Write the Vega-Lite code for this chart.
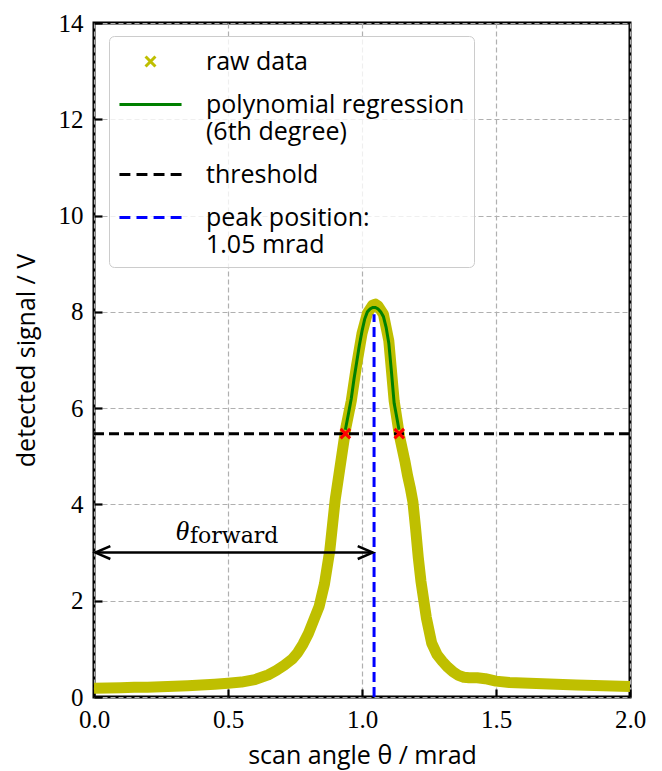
{
  "$schema": "https://vega.github.io/schema/vega-lite/v6.json",
  "width": 536,
  "height": 674,
  "autosize": {"type": "none"},
  "padding": {"left": 94, "top": 23, "right": 32, "bottom": 74},
  "background": "white",
  "config": {
    "view": {"stroke": "black", "strokeWidth": 3},
    "axis": {
      "domain": false,
      "grid": true,
      "gridColor": "#b0b0b0",
      "gridDash": [5, 3],
      "gridWidth": 1.2,
      "ticks": true,
      "tickColor": "black",
      "tickWidth": 2.2,
      "tickSize": -8,
      "labelFont": "Liberation Serif",
      "labelFontSize": 25,
      "labelColor": "black",
      "labelFlush": false,
      "titleFont": "Open Sans",
      "titleFontSize": 25,
      "titleFontWeight": "normal",
      "titleColor": "black"
    }
  },
  "datasets": {
    "raw": [
      {"x": 0.00, "y": 0.18}, {"x": 0.05, "y": 0.185}, {"x": 0.10, "y": 0.19}, {"x": 0.15, "y": 0.20},
      {"x": 0.20, "y": 0.205}, {"x": 0.25, "y": 0.215}, {"x": 0.30, "y": 0.225}, {"x": 0.35, "y": 0.235},
      {"x": 0.40, "y": 0.25}, {"x": 0.45, "y": 0.265}, {"x": 0.50, "y": 0.285}, {"x": 0.55, "y": 0.31},
      {"x": 0.60, "y": 0.36}, {"x": 0.65, "y": 0.46}, {"x": 0.68, "y": 0.55}, {"x": 0.71, "y": 0.66},
      {"x": 0.74, "y": 0.79}, {"x": 0.76, "y": 0.92}, {"x": 0.78, "y": 1.1}, {"x": 0.80, "y": 1.32},
      {"x": 0.82, "y": 1.6}, {"x": 0.84, "y": 1.88}, {"x": 0.86, "y": 2.35}, {"x": 0.88, "y": 3.05},
      {"x": 0.90, "y": 4.1}, {"x": 0.92, "y": 4.85}, {"x": 0.94, "y": 5.6}, {"x": 0.96, "y": 6.15},
      {"x": 0.98, "y": 6.9}, {"x": 1.00, "y": 7.55}, {"x": 1.02, "y": 7.97}, {"x": 1.04, "y": 8.14},
      {"x": 1.05, "y": 8.16}, {"x": 1.06, "y": 8.12}, {"x": 1.08, "y": 7.95}, {"x": 1.10, "y": 7.4},
      {"x": 1.12, "y": 6.15}, {"x": 1.14, "y": 5.42}, {"x": 1.16, "y": 4.9}, {"x": 1.17, "y": 4.6},
      {"x": 1.18, "y": 4.35}, {"x": 1.19, "y": 4.05}, {"x": 1.20, "y": 3.5}, {"x": 1.21, "y": 2.9},
      {"x": 1.22, "y": 2.4}, {"x": 1.24, "y": 1.65}, {"x": 1.26, "y": 1.12}, {"x": 1.28, "y": 0.88},
      {"x": 1.30, "y": 0.74}, {"x": 1.32, "y": 0.62}, {"x": 1.34, "y": 0.52}, {"x": 1.36, "y": 0.45},
      {"x": 1.38, "y": 0.41}, {"x": 1.40, "y": 0.40}, {"x": 1.43, "y": 0.40}, {"x": 1.46, "y": 0.38},
      {"x": 1.50, "y": 0.33}, {"x": 1.55, "y": 0.30}, {"x": 1.60, "y": 0.29}, {"x": 1.70, "y": 0.27},
      {"x": 1.80, "y": 0.25}, {"x": 1.90, "y": 0.235}, {"x": 2.00, "y": 0.22}
    ],
    "fit": [
      {"x": 0.938, "y": 5.55}, {"x": 0.95, "y": 5.9}, {"x": 0.96, "y": 6.2}, {"x": 0.97, "y": 6.6},
      {"x": 0.98, "y": 6.95}, {"x": 0.99, "y": 7.3}, {"x": 1.00, "y": 7.6}, {"x": 1.01, "y": 7.85},
      {"x": 1.02, "y": 8.0}, {"x": 1.03, "y": 8.06}, {"x": 1.04, "y": 8.09}, {"x": 1.05, "y": 8.09},
      {"x": 1.06, "y": 8.06}, {"x": 1.07, "y": 8.0}, {"x": 1.08, "y": 7.9}, {"x": 1.09, "y": 7.68},
      {"x": 1.10, "y": 7.35}, {"x": 1.11, "y": 6.75}, {"x": 1.12, "y": 6.1}, {"x": 1.13, "y": 5.8},
      {"x": 1.138, "y": 5.55}
    ],
    "cross": [{"x": 0.938, "y": 5.47}, {"x": 1.139, "y": 5.47}],
    "legend": [{"s": "raw"}, {"s": "poly"}, {"s": "thr"}, {"s": "peak"}]
  },
  "layer": [
    {
      "data": {"name": "raw"},
      "mark": {"type": "line", "color": "#bfbf00", "strokeWidth": 11, "strokeJoin": "round", "clip": true},
      "encoding": {
        "x": {"field": "x", "type": "quantitative", "scale": {"domain": [0, 2], "nice": false},
              "axis": {"values": [0, 0.5, 1, 1.5, 2], "format": ".1f", "title": "scan angle θ / mrad", "labelPadding": 18, "titleY": 66, "titleBaseline": "alphabetic"}},
        "y": {"field": "y", "type": "quantitative", "scale": {"domain": [0, 14], "nice": false},
              "axis": {"values": [0, 2, 4, 6, 8, 10, 12, 14], "format": "d", "title": "detected signal / V", "labelPadding": 19, "titleX": -68, "titleBaseline": "middle"}}
      }
    },
    {
      "data": {"name": "fit"},
      "mark": {"type": "line", "color": "#008000", "strokeWidth": 3},
      "encoding": {"x": {"field": "x", "type": "quantitative"}, "y": {"field": "y", "type": "quantitative"}}
    },
    {
      "data": {"values": [{"x": 0, "x2": 2, "y": 5.47}]},
      "mark": {"type": "rule", "color": "black", "strokeWidth": 3, "strokeDash": [10, 5]},
      "encoding": {"x": {"field": "x", "type": "quantitative"}, "x2": {"field": "x2"}, "y": {"field": "y", "type": "quantitative"}}
    },
    {
      "data": {"values": [{"x": 1.045, "y": 0, "y2": 7.95}]},
      "mark": {"type": "rule", "color": "blue", "strokeWidth": 3, "strokeDash": [10, 5]},
      "encoding": {"x": {"field": "x", "type": "quantitative"}, "y": {"field": "y", "type": "quantitative"}, "y2": {"field": "y2"}}
    },
    {
      "data": {"name": "cross"},
      "mark": {"type": "point", "shape": "M-1,-1L1,1M-1,1L1,-1", "size": 90, "filled": false, "stroke": "red", "strokeWidth": 3, "opacity": 1},
      "encoding": {"x": {"field": "x", "type": "quantitative"}, "y": {"field": "y", "type": "quantitative"}}
    },
    {
      "data": {"values": [{"x": 0.005, "x2": 1.04, "y": 3.0}]},
      "mark": {"type": "rule", "color": "black", "strokeWidth": 2.5},
      "encoding": {"x": {"field": "x", "type": "quantitative"}, "x2": {"field": "x2"}, "y": {"field": "y", "type": "quantitative"}}
    },
    {
      "data": {"values": [{"x": 0.005, "y": 3.0}]},
      "mark": {"type": "point", "shape": "M1,-0.43L0,0L1,0.43", "size": 900, "filled": false, "stroke": "black", "strokeWidth": 2.5, "opacity": 1},
      "encoding": {"x": {"field": "x", "type": "quantitative"}, "y": {"field": "y", "type": "quantitative"}}
    },
    {
      "data": {"values": [{"x": 1.04, "y": 3.0}]},
      "mark": {"type": "point", "shape": "M-1,-0.43L0,0L-1,0.43", "size": 900, "filled": false, "stroke": "black", "strokeWidth": 2.5, "opacity": 1},
      "encoding": {"x": {"field": "x", "type": "quantitative"}, "y": {"field": "y", "type": "quantitative"}}
    },
    {
      "data": {"values": [{"x": 0.33, "y": 3.26, "t": "θ"}]},
      "mark": {"type": "text", "font": "Liberation Serif", "fontStyle": "italic", "fontSize": 28, "align": "center", "baseline": "alphabetic", "color": "black"},
      "encoding": {"x": {"field": "x", "type": "quantitative"}, "y": {"field": "y", "type": "quantitative"}, "text": {"field": "t"}}
    },
    {
      "data": {"values": [{"x": 0.358, "y": 3.2, "t": "forward"}]},
      "mark": {"type": "text", "font": "DejaVu Serif", "fontSize": 22, "align": "left", "baseline": "alphabetic", "color": "black"},
      "encoding": {"x": {"field": "x", "type": "quantitative"}, "y": {"field": "y", "type": "quantitative"}, "text": {"field": "t"}}
    },
    {
      "data": {"name": "legend"},
      "mark": {"type": "point", "filled": false, "opacity": 0},
      "encoding": {
        "x": {"datum": 1, "type": "quantitative"},
        "y": {"datum": 1, "type": "quantitative"},
        "color": {
          "field": "s", "type": "nominal",
          "scale": {"domain": ["raw", "poly", "thr", "peak"], "range": ["#bfbf00", "#008000", "black", "blue"]},
          "legend": {
            "title": null,
            "orient": "none",
            "legendX": 15,
            "legendY": 13,
            "padding": 9,
            "fillColor": "rgba(255,255,255,0.8)",
            "strokeColor": "#cccccc",
            "cornerRadius": 5,
            "symbolSize": 900,
            "symbolOffset": 16,
            "symbolStrokeWidth": 3,
            "symbolOpacity": 1,
            "symbolFillColor": "transparent",
            "labelFont": "Open Sans",
            "labelFontSize": 25,
            "labelColor": "black",
            "labelOffset": 39,
            "labelLimit": 0,
            "rowPadding": 13,
            "labelExpr": "datum.value == 'poly' ? ['polynomial regression', '(6th degree)'] : datum.value == 'peak' ? ['peak position:', '1.05 mrad'] : datum.value == 'raw' ? 'raw data' : 'threshold'"
          }
        },
        "shape": {
          "field": "s", "type": "nominal",
          "scale": {"domain": ["raw", "poly", "thr", "peak"], "range": [
            "M-0.33,-0.33L0.33,0.33M-0.33,0.33L0.33,-0.33",
            "M-2.07,0L2.07,0",
            "M-2.07,0L-1.342,0M-0.934,0L-0.205,0M0.205,0L0.934,0M1.342,0L2.07,0",
            "M-2.07,0L-1.342,0M-0.934,0L-0.205,0M0.205,0L0.934,0M1.342,0L2.07,0"
          ]}
        }
      }
    }
  ]
}
